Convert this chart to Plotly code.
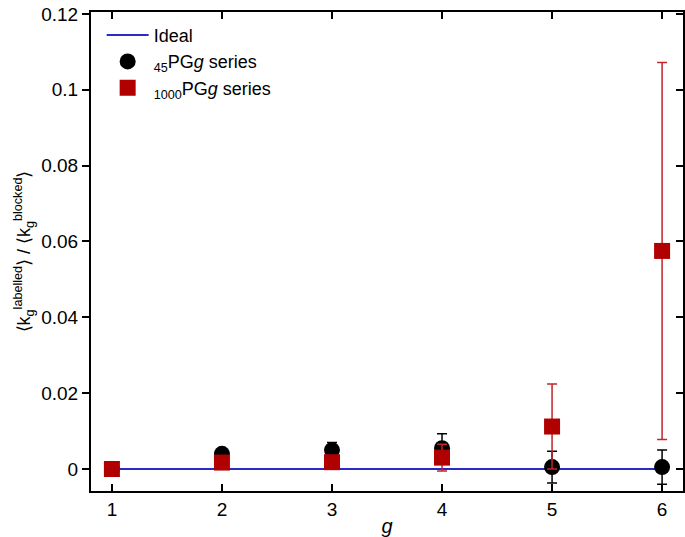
import plotly.graph_objects as go

g_vals = [1, 2, 3, 4, 5, 6]
ideal = [0, 0, 0, 0, 0, 0]

pg45 = [0.0, 0.0040, 0.0050, 0.0055, 0.0005, 0.0005]
pg45_err = [0.0, 0.0, 0.0020, 0.0038, 0.0042, 0.0045]

pg1000 = [0.0, 0.0017, 0.0018, 0.0030, 0.0112, 0.0575]
pg1000_err = [0.0, 0.0, 0.0, 0.0035, 0.0112, 0.0497]

yticks = [0, 0.02, 0.04, 0.06, 0.08, 0.1, 0.12]
yticklabels = ["0", "0.02", "0.04", "0.06", "0.08", "0.1", "0.12"]
xticks = [1, 2, 3, 4, 5, 6]

font = "Liberation Sans, Arial, Helvetica, sans-serif"

fig = go.Figure()
fig.add_trace(go.Scatter(x=g_vals, y=ideal, mode="lines", name="Ideal",
                         line=dict(color="#2b2bc4", width=2)))
fig.add_trace(go.Scatter(x=g_vals, y=pg45, mode="markers",
                         name="<sub>45</sub>PG<i>g</i> series",
                         marker=dict(symbol="circle", size=16, color="black"),
                         error_y=dict(type="data", array=pg45_err, color="black",
                                      thickness=1.5, width=5)))
fig.add_trace(go.Scatter(x=g_vals, y=pg1000, mode="markers",
                         name="<sub>1000</sub>PG<i>g</i> series",
                         marker=dict(symbol="square", size=16, color="#b00000"),
                         error_y=dict(type="data", array=pg1000_err, color="#c0262c",
                                      thickness=1.5, width=5)))
# invisible trace for right-axis inside ticks
fig.add_trace(go.Scatter(x=[1], y=[0], yaxis="y2", mode="markers",
                         marker=dict(opacity=0), showlegend=False, hoverinfo="skip"))

fig.update_layout(
    width=685, height=537,
    margin=dict(l=91, r=2, t=12, b=46, autoexpand=False),
    paper_bgcolor="white", plot_bgcolor="white",
    font=dict(family=font, size=19, color="black"),
    showlegend=True,
    legend=dict(x=0.018, y=0.99, xanchor="left", yanchor="top",
                bgcolor="rgba(0,0,0,0)", font=dict(size=18),
                tracegroupgap=0, itemwidth=42),
    xaxis=dict(range=[0.81, 6.19], tickvals=xticks, ticks="inside", ticklen=7,
               tickwidth=1.5, tickcolor="black", mirror="ticks", showline=True,
               linecolor="black", linewidth=2, showgrid=False, zeroline=False,
               automargin=False,
               title=dict(text="<i>g</i>", font=dict(size=20), standoff=2)),
    yaxis=dict(range=[-0.0058, 0.1205], tickvals=yticks, ticktext=yticklabels,
               ticks="outside", ticklen=7, tickwidth=1.5, tickcolor="black",
               mirror=True, showline=True, linecolor="black", linewidth=2,
               showgrid=False, zeroline=False, automargin=False,
               title=dict(text="⟨k<sub>g</sub><sup>labelled</sup>⟩ / ⟨k<sub>g</sub><sup>blocked</sup>⟩",
                          font=dict(size=18), standoff=6)),
    yaxis2=dict(range=[-0.0058, 0.1205], tickvals=yticks, overlaying="y", side="right",
                ticks="inside", ticklen=7, tickwidth=1.5, tickcolor="black",
                showticklabels=False, showgrid=False, zeroline=False, showline=False,
                automargin=False),
)

fig.write_html("out.html", config={"displayModeBar": False},
               post_script="document.body.style.margin='0';document.body.style.overflow='hidden';")
